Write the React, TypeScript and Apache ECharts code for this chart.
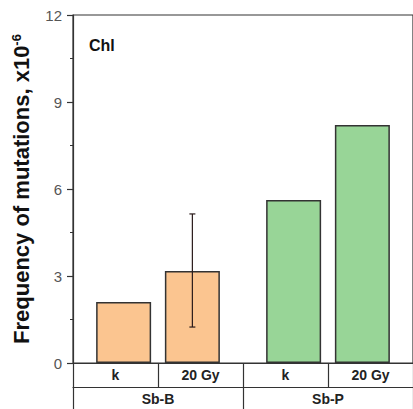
import React, { useEffect, useRef } from "react";
import * as echarts from "echarts";

const groups = ["Sb-B", "Sb-P"];
const subLabels = ["k", "20 Gy", "k", "20 Gy"];
const kValues = [2.1, 5.62];
const gyValues = [3.17, 8.21];
const gyErrLow = [1.24, null];
const gyErrHigh = [5.14, null];
const groupColors = ["#FBC590", "#98D597"];
const yTicks = [0, 3, 6, 9, 12];

const BAR_W = 55;
const BAR_GAP = 0.25;

export default function App() {
  const ref = useRef<HTMLDivElement>(null);
  useEffect(() => {
    const chart = echarts.init(ref.current!, null, { renderer: "svg" });
    const font = "Arial, 'Liberation Sans', sans-serif";
    const axisColor = "#333";
    const errData: any[] = [];
    groups.forEach((g, i) => {
      if (gyErrLow[i] != null && gyErrHigh[i] != null) errData.push([i, gyErrLow[i], gyErrHigh[i]]);
    });
    const offset = (BAR_W * (1 + BAR_GAP)) / 2;
    chart.setOption({
      animation: false,
      textStyle: { fontFamily: font },
      title: {
        text: "Chl",
        left: 84,
        top: 32,
        textStyle: { fontFamily: font, fontWeight: "bold", fontSize: 16, color: "#111" },
      },
      grid: {
        left: 73,
        right: -1,
        top: 15,
        bottom: 46,
        show: true,
        borderColor: axisColor,
        borderWidth: 1.2,
        backgroundColor: "transparent",
      },
      xAxis: [
        {
          type: "category",
          data: subLabels,
          position: "bottom",
          axisLine: { show: true, lineStyle: { color: axisColor, width: 1.2 } },
          axisTick: { show: true, inside: false, length: 24, alignWithLabel: false, lineStyle: { color: axisColor, width: 1.2 } },
          axisLabel: { margin: 5, fontSize: 14, fontWeight: "bold", color: "#222", fontFamily: font },
        },
        {
          type: "category",
          data: groups,
          position: "bottom",
          offset: 24,
          axisLine: { show: true, lineStyle: { color: axisColor, width: 1.2 } },
          axisTick: { show: true, inside: false, length: 24, alignWithLabel: false, lineStyle: { color: axisColor, width: 1.2 } },
          axisLabel: { margin: 5, fontSize: 14, fontWeight: "bold", color: "#222", fontFamily: font },
        },
      ],
      yAxis: {
        type: "value",
        min: yTicks[0],
        max: yTicks[yTicks.length - 1],
        interval: 3,
        name: "Frequency of mutations, x10{sup|-6}",
        nameLocation: "middle",
        nameGap: 40,
        nameTextStyle: {
          fontFamily: font,
          fontSize: 22,
          fontWeight: "bold",
          color: "#111",
          rich: {
            sup: { fontFamily: font, fontSize: 13, fontWeight: "bold", color: "#111", verticalAlign: "top", padding: [0, 0, 10, 0] },
          },
        },
        axisLine: { show: true, lineStyle: { color: axisColor, width: 1.2 } },
        axisTick: { show: true, inside: false, length: 6, lineStyle: { color: axisColor, width: 1.2 } },
        minorTick: { show: true, splitNumber: 2, length: 3, lineStyle: { color: axisColor } },
        splitLine: { show: false },
        axisLabel: { margin: 11, fontSize: 15, color: "#555", fontFamily: font },
      },
      series: [
        {
          type: "bar",
          xAxisIndex: 1,
          barWidth: BAR_W,
          barGap: BAR_GAP * 100 + "%",
          data: kValues.map((v, i) => ({
            value: v,
            itemStyle: { color: groupColors[i], borderColor: "#333", borderWidth: 1.5 },
          })),
        },
        {
          type: "bar",
          xAxisIndex: 1,
          barWidth: BAR_W,
          barGap: BAR_GAP * 100 + "%",
          data: gyValues.map((v, i) => ({
            value: v,
            itemStyle: { color: groupColors[i], borderColor: "#333", borderWidth: 1.5 },
          })),
        },
        {
          type: "custom",
          xAxisIndex: 1,
          z: 10,
          data: errData,
          renderItem: (params: any, api: any) => {
            const c = api.value(0);
            const lo = api.coord([c, api.value(1)]);
            const hi = api.coord([c, api.value(2)]);
            const x = lo[0] + offset;
            const cap = 3;
            const style = { stroke: "#2a1a1a", lineWidth: 1.2 };
            return {
              type: "group",
              children: [
                { type: "line", shape: { x1: x, y1: lo[1], x2: x, y2: hi[1] }, style },
                { type: "line", shape: { x1: x - cap, y1: lo[1], x2: x + cap, y2: lo[1] }, style },
                { type: "line", shape: { x1: x - cap, y1: hi[1], x2: x + cap, y2: hi[1] }, style },
              ],
            };
          },
        },
      ],
    });
    return () => chart.dispose();
  }, []);
  return <div ref={ref} style={{ width: 413, height: 409, position: "absolute", left: 0, top: 0 }} />;
}
